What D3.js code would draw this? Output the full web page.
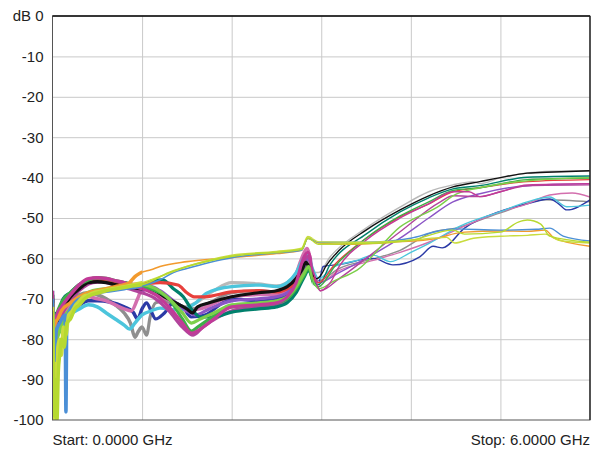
<!DOCTYPE html>
<html>
<head>
<meta charset="utf-8">
<script src="https://cdn.jsdelivr.net/npm/d3@7"></script>
<style>
body { margin: 0; background: #fff; }
text { font-family: "Liberation Sans", Arial, sans-serif; }
</style>
</head>
<body>
<svg id="chart"></svg>
<script>
// axis values
let yTicks = [0, -10, -20, -30, -40, -50, -60, -70, -80, -90, -100]
let xGrid = [1, 2, 3, 4, 5]
let startLabel = 'Start: 0.0000 GHz'
let stopLabel = 'Stop: 6.0000 GHz'

// traces, [GHz, dB]
let black = [[0,-70],[0.015,-90],[0.03,-78],[0.06,-75],[0.1,-72],[0.15,-71],[0.2,-69.5],[0.3,-67.5],[0.4,-66],[0.5,-65.8],[0.6,-66],[0.7,-66.5],[0.8,-67],[0.9,-67.2],[1.0,-67.5],[1.12,-67.8],[1.25,-69.5],[1.42,-71.5],[1.5,-72.5],[1.56,-73.5],[1.62,-72],[1.75,-71],[2.0,-69.5],[2.3,-68.5],[2.5,-68],[2.62,-67],[2.72,-65],[2.78,-63],[2.83,-61],[2.88,-63],[2.95,-65],[3.0,-64],[3.05,-62],[3.2,-58],[3.5,-53],[3.88,-48],[4.2,-44.5],[4.47,-42.3],[4.77,-41],[5.0,-40],[5.3,-38.9],[5.6,-38.6],[6.0,-38.3]]
let lightGray = [[0,-71],[0.02,-84],[0.04,-76],[0.08,-74],[0.12,-71],[0.2,-69],[0.3,-67],[0.4,-65.8],[0.5,-65.5],[0.6,-65.8],[0.7,-66.3],[0.8,-67],[0.9,-67],[1.0,-67.3],[1.15,-68.5],[1.3,-70.5],[1.45,-72],[1.6,-71],[1.8,-68],[2.0,-66],[2.3,-66.3],[2.5,-66.8],[2.62,-66],[2.72,-64],[2.8,-62],[2.86,-61],[2.92,-63.5],[2.97,-63.5],[3.1,-59.6],[3.5,-52.5],[3.88,-47.3],[4.2,-43.5],[4.47,-41.8],[4.7,-41],[4.77,-41.5],[5.0,-40],[5.5,-38.5],[6.0,-38.3]]
let teal = [[0,-69],[0.015,-80],[0.03,-74],[0.07,-73],[0.12,-70],[0.2,-68.5],[0.3,-66.5],[0.4,-65.5],[0.5,-65],[0.6,-65.3],[0.7,-65.8],[0.8,-66],[0.9,-66.5],[1.0,-66.5],[1.12,-65.5],[1.23,-65.3],[1.35,-67.5],[1.46,-69.5],[1.55,-72.5],[1.65,-74.5],[1.8,-74.5],[2.0,-73.3],[2.3,-72.5],[2.5,-72],[2.62,-71],[2.72,-68.5],[2.8,-65],[2.86,-63],[2.92,-66],[2.97,-66.5],[3.1,-61.5],[3.5,-54],[3.88,-48.5],[4.2,-45],[4.47,-42.8],[4.77,-42],[5.3,-39.9],[6.0,-39.6]]
let red = [[0,-70],[0.02,-83],[0.04,-75],[0.08,-73.5],[0.15,-71],[0.25,-68],[0.35,-66.3],[0.45,-65.5],[0.55,-65.3],[0.65,-65.8],[0.75,-66],[0.85,-66.5],[1.0,-66.3],[1.2,-66],[1.4,-66.6],[1.5,-68.5],[1.58,-69.5],[1.7,-69.5],[2.0,-68.3],[2.3,-68],[2.5,-68.3],[2.62,-67.5],[2.72,-66],[2.8,-64],[2.86,-62],[2.92,-65],[2.97,-66],[3.15,-61.5],[3.5,-55],[3.88,-49.7],[4.2,-46.5],[4.47,-43.5],[4.77,-42.5],[5.3,-41],[6.0,-40.5]]
let green = [[0,-69],[0.01,-92],[0.025,-80],[0.05,-74],[0.1,-71],[0.2,-68.5],[0.3,-66.5],[0.4,-65.3],[0.5,-64.8],[0.6,-65],[0.7,-65.5],[0.8,-66],[0.9,-66.5],[1.0,-67],[1.15,-68],[1.3,-70],[1.45,-75],[1.55,-78],[1.62,-77],[1.75,-75],[2.0,-72],[2.3,-71.5],[2.5,-71],[2.62,-70],[2.72,-67.5],[2.8,-64.5],[2.86,-62.5],[2.92,-66.5],[2.97,-67],[3.15,-62],[3.5,-55],[3.88,-49.5],[4.2,-46],[4.47,-43.2],[4.77,-42.5],[5.3,-40.5],[6.0,-40.1]]
let magenta = [[0,-68],[0.01,-95],[0.02,-100],[0.03,-82],[0.05,-74],[0.1,-72],[0.2,-69],[0.3,-66.5],[0.4,-65],[0.5,-64.8],[0.6,-65],[0.7,-65.5],[0.8,-66],[0.9,-66.8],[1.0,-67.5],[1.15,-69],[1.3,-72],[1.45,-76],[1.55,-78.5],[1.65,-77.5],[1.8,-75],[2.0,-72],[2.3,-71.5],[2.5,-71],[2.62,-69.5],[2.72,-66],[2.8,-60],[2.85,-58.5],[2.92,-64],[2.99,-68],[3.1,-66],[3.2,-62],[3.5,-55.5],[3.88,-50],[4.2,-46.5],[4.47,-43.5],[4.65,-43.5],[4.77,-44.7],[5.0,-43.5],[5.3,-41.8],[6.0,-41.5]]
let magenta2 = [[0,-70],[0.02,-86],[0.04,-77],[0.08,-75],[0.15,-72],[0.25,-69],[0.35,-67],[0.45,-66],[0.55,-65.8],[0.65,-66.2],[0.75,-66.8],[0.85,-67.5],[1.0,-68.5],[1.15,-70],[1.3,-73],[1.45,-77],[1.57,-79],[1.68,-77],[1.85,-74.5],[2.0,-73],[2.3,-72],[2.5,-71.5],[2.62,-70.5],[2.72,-67],[2.8,-61],[2.85,-59.5],[2.92,-65],[2.99,-68],[3.2,-65],[3.5,-60],[3.88,-53.4],[4.33,-46],[4.47,-44.5],[4.77,-44.7],[5.0,-43.5],[5.3,-42],[6.0,-41.8]]
let lightGreen = [[0,-71],[0.015,-88],[0.03,-96],[0.05,-80],[0.08,-78],[0.12,-75],[0.18,-73],[0.25,-71],[0.35,-69],[0.45,-68],[0.6,-67.5],[0.75,-67],[0.9,-66.5],[1.0,-66.5],[1.15,-67.5],[1.3,-70],[1.45,-73.5],[1.55,-76],[1.65,-75],[1.8,-73.5],[2.0,-71.5],[2.3,-71],[2.5,-70.5],[2.62,-69.5],[2.72,-67],[2.8,-64],[2.86,-62],[2.92,-66],[2.97,-67.5],[3.15,-65.5],[3.4,-62.9],[3.88,-52.2],[4.33,-46.8],[4.47,-44.5],[4.77,-42.5],[5.3,-40.8],[6.0,-40]]
let purple = [[0,-70],[0.02,-82],[0.05,-75],[0.1,-72.5],[0.2,-69.5],[0.3,-67],[0.4,-66],[0.5,-65.5],[0.6,-65.5],[0.7,-66],[0.8,-66.5],[0.9,-67.5],[1.0,-68],[1.1,-67],[1.2,-68],[1.35,-70.5],[1.5,-73],[1.6,-74],[1.75,-72.5],[2.0,-70.5],[2.3,-70],[2.5,-69.5],[2.62,-68.5],[2.72,-66],[2.8,-62],[2.86,-60],[2.92,-64],[2.97,-66],[3.2,-63.5],[3.58,-59],[3.88,-55],[4.2,-50],[4.47,-46],[4.77,-44],[5.3,-42],[6.0,-41.5]]
let cyan = [[0,-68],[0.01,-96],[0.02,-88],[0.035,-82],[0.06,-79],[0.1,-76],[0.15,-76.5],[0.2,-74],[0.3,-72.5],[0.4,-71.5],[0.5,-72],[0.6,-73.5],[0.7,-75],[0.8,-76.5],[0.86,-77.5],[0.92,-76],[1.0,-74],[1.1,-73],[1.2,-72.3],[1.42,-72.8],[1.6,-71],[1.72,-68.6],[2.0,-67],[2.32,-66.6],[2.5,-67],[2.62,-66],[2.72,-63.5],[2.8,-60],[2.85,-59],[2.92,-63],[2.97,-65],[3.15,-62],[3.4,-60.5],[3.58,-59.2],[3.77,-60.8],[4.0,-58.5],[4.21,-56.2],[4.55,-52],[4.99,-48.5],[5.3,-46],[5.55,-44.8],[5.74,-47.2],[6.0,-46.8]]
let darkBlue = [[0,-71],[0.015,-86],[0.03,-78],[0.06,-77],[0.1,-75],[0.2,-73],[0.3,-71.5],[0.4,-70.5],[0.5,-70.5],[0.64,-70.8],[0.8,-72],[0.9,-73.3],[0.95,-75],[1.0,-72.5],[1.05,-71],[1.1,-73],[1.15,-75],[1.25,-73.5],[1.35,-71],[1.45,-72],[1.55,-74.5],[1.7,-74],[2.0,-70],[2.3,-70.5],[2.5,-70],[2.62,-69],[2.72,-66.5],[2.8,-63],[2.86,-62],[2.92,-65.5],[2.97,-66],[3.02,-62],[3.2,-61.5],[3.58,-60],[3.8,-61.6],[4.1,-59.6],[4.25,-57],[4.35,-57.4],[4.6,-52.5],[4.99,-48.4],[5.3,-46.5],[5.55,-45.3],[5.65,-46.5],[5.74,-48],[6.0,-45.5]]
let pink = [[0,-70],[0.02,-80],[0.05,-76],[0.1,-74],[0.2,-71.5],[0.3,-70],[0.4,-69.5],[0.5,-70],[0.6,-70.5],[0.7,-71.5],[0.8,-72.5],[0.88,-73],[0.95,-70],[1.02,-66.5],[1.1,-67],[1.2,-69],[1.35,-71],[1.5,-73],[1.65,-72.5],[2.0,-69.5],[2.3,-69],[2.5,-69],[2.62,-68],[2.7,-65],[2.78,-60],[2.84,-57.5],[2.9,-62],[2.97,-66],[3.2,-63],[3.58,-60.5],[3.88,-58.5],[4.2,-56],[4.6,-52],[5.0,-48.5],[5.3,-46.5],[5.55,-44.3],[5.8,-43.8],[6.0,-44.8]]
let midGray = [[0,-69],[0.015,-84],[0.03,-77],[0.06,-75.5],[0.1,-73.5],[0.2,-71],[0.3,-69],[0.4,-68.5],[0.5,-69],[0.6,-70],[0.7,-71.5],[0.8,-73.5],[0.87,-76],[0.92,-79.5],[0.96,-78],[1.0,-77],[1.05,-79],[1.09,-74.5],[1.15,-71],[1.25,-70.5],[1.4,-72],[1.55,-72.5],[1.7,-71.5],[2.0,-68.5],[2.3,-68],[2.5,-68.3],[2.62,-67.5],[2.72,-65],[2.8,-62],[2.86,-60],[2.92,-64],[2.97,-65.5],[3.2,-62.5],[3.6,-60],[3.88,-58],[4.23,-53.6],[4.5,-52.5],[4.99,-48.8],[5.5,-45.5],[6.0,-46]]
let orange = [[0,-71],[0.015,-84],[0.03,-76],[0.06,-75],[0.1,-73],[0.2,-71],[0.3,-69.5],[0.4,-68.5],[0.5,-68],[0.6,-67.5],[0.7,-67],[0.8,-66.5],[0.86,-66],[0.92,-64.5],[0.98,-63.6],[1.1,-62.8],[1.2,-62],[1.5,-60.8],[2.0,-59.8],[2.5,-58.8],[2.78,-58],[2.85,-55],[2.97,-56.2],[3.3,-56.5],[3.8,-56],[4.3,-55],[4.5,-53.8],[4.6,-53.5],[5.0,-53.2],[5.3,-53.3],[5.5,-53],[5.6,-55],[6.0,-57]]
let lightBlue = [[0,-70],[0.02,-86],[0.04,-78],[0.08,-76],[0.14,-74],[0.15,-98],[0.16,-75],[0.25,-71],[0.35,-69.5],[0.5,-68.5],[0.65,-68],[0.8,-67.5],[0.95,-67],[1.05,-66.5],[1.2,-65.3],[1.35,-63.5],[1.5,-62.5],[1.75,-61],[2.0,-59.8],[2.5,-58.6],[2.78,-58],[2.85,-55],[2.97,-56],[3.5,-56],[4.0,-55],[4.27,-53.4],[4.47,-52.7],[5.0,-53],[5.4,-52.8],[5.55,-52.5],[5.7,-54.5],[6.0,-55.7]]
let yellowGreen = [[0,-72],[0.01,-92],[0.02,-100],[0.03,-86],[0.045,-98],[0.06,-82],[0.08,-80],[0.1,-84],[0.12,-77],[0.15,-79],[0.18,-74],[0.22,-73],[0.26,-71.5],[0.3,-70.5],[0.34,-69.5],[0.4,-69],[0.48,-68.3],[0.56,-68],[0.64,-67.6],[0.72,-67.3],[0.8,-67],[0.9,-66.5],[1.0,-66],[1.2,-64.5],[1.5,-62],[2.0,-59.2],[2.5,-58.3],[2.78,-57.5],[2.85,-54.6],[2.97,-55.9],[3.5,-56],[4.0,-55.5],[4.4,-54.8],[4.49,-56.2],[4.7,-55],[5.0,-54.5],[5.3,-54.3],[5.5,-54],[5.65,-55.5],[6.0,-56.2]]
let lime = [[0,-73],[0.01,-86],[0.02,-99],[0.035,-90],[0.05,-100],[0.065,-88],[0.08,-84],[0.1,-80],[0.13,-82],[0.16,-76],[0.2,-75],[0.25,-72.5],[0.3,-71.5],[0.36,-70],[0.44,-69],[0.52,-68.5],[0.6,-68],[0.7,-67.6],[0.8,-67.2],[0.9,-66.8],[1.0,-66.5],[1.3,-63.5],[2.0,-59.5],[2.78,-57.8],[2.85,-55],[2.97,-56.5],[3.5,-56.3],[4.0,-55.5],[4.47,-53],[4.6,-54],[5.0,-53.5],[5.2,-51],[5.3,-50.5],[5.45,-51.5],[5.55,-54.5],[6.0,-56]]

let traces = [
    { pts: lightGray, color: '#b9b9b9', group: 'A' },
    { pts: midGray, color: '#8f8f8f', group: 'B' },
    { pts: darkBlue, color: '#2b3aa6', group: 'B' },
    { pts: pink, color: '#d36fae', group: 'B' },
    { pts: cyan, color: '#4cc5dc', group: 'B' },
    { pts: purple, color: '#8b55c6', group: 'A' },
    { pts: magenta2, color: '#b2449c', group: 'A' },
    { pts: teal, color: '#00806c', group: 'A' },
    { pts: red, color: '#e8403c', group: 'A' },
    { pts: black, color: '#111111', group: 'A' },
    { pts: green, color: '#3daf48', group: 'A' },
    { pts: lightGreen, color: '#7ccf4a', group: 'A' },
    { pts: magenta, color: '#c23a97', group: 'A' },
    { pts: orange, color: '#f29a2e', group: 'C' },
    { pts: lightBlue, color: '#4b8fd6', group: 'C' },
    { pts: yellowGreen, color: '#c9dc3e', group: 'C' },
    { pts: lime, color: '#b6d930', group: 'C' }
]

let width = 596
let height = 450
let padLeft = 52.5
let padRight = 590
let padTop = 16
let padBottom = 420

let svg = d3.select('#chart')
svg.attr('width', width)
svg.attr('height', height)

let xScale = d3.scaleLinear().domain([0, 6]).range([padLeft, padRight])
let yScale = d3.scaleLinear().domain([-100, 0]).range([padBottom, padTop])

// grid
svg.append('g')
    .attr('transform', 'translate(0,' + padBottom + ')')
    .call(d3.axisBottom(xScale).tickValues(xGrid).tickSize(-(padBottom - padTop)).tickFormat(''))
    .call(g => g.select('.domain').remove())
    .selectAll('line').attr('stroke', '#c9c9c9')

svg.append('g')
    .attr('transform', 'translate(' + padLeft + ',0)')
    .call(d3.axisLeft(yScale).tickValues(yTicks.slice(1, -1)).tickSize(-(padRight - padLeft)).tickFormat(''))
    .call(g => g.select('.domain').remove())
    .selectAll('line').attr('stroke', '#c9c9c9')

// noisy low band drawn thicker
let zones = [
    { id: 'z1', from: 0, to: 1.0 },
    { id: 'z2', from: 1.0, to: 2.9 },
    { id: 'z3', from: 2.9, to: 6 }
]
let defs = svg.append('defs')
zones.forEach(z => {
    defs.append('clipPath').attr('id', z.id)
        .append('rect')
        .attr('x', xScale(z.from))
        .attr('y', padTop)
        .attr('width', xScale(z.to) - xScale(z.from))
        .attr('height', padBottom - padTop)
})

let strokeFor = (t, z) => {
    if (z.id == 'z1') return 3.5
    if (z.id == 'z2') return t.group == 'C' ? 1.6 : 3.2
    return 1.4
}

let line = d3.line()
    .curve(d3.curveMonotoneX)
    .x(d => xScale(d[0]))
    .y(d => yScale(d[1]))

let plot = svg.append('g')
traces.forEach(t => {
    zones.forEach(z => {
        plot.append('path')
            .attr('d', line(t.pts))
            .attr('clip-path', 'url(#' + z.id + ')')
            .attr('fill', 'none')
            .attr('stroke', t.color)
            .attr('stroke-width', strokeFor(t, z))
            .attr('stroke-linejoin', 'round')
    })
})

// frame
svg.append('rect')
    .attr('x', padLeft).attr('y', padTop)
    .attr('width', padRight - padLeft).attr('height', padBottom - padTop)
    .attr('fill', 'none').attr('stroke', '#555').attr('stroke-width', 1)
svg.append('line')
    .attr('x1', padLeft).attr('x2', padRight).attr('y1', padTop).attr('y2', padTop)
    .attr('stroke', '#111').attr('stroke-width', 1.6)
svg.append('line')
    .attr('x1', padRight).attr('x2', padRight).attr('y1', padTop).attr('y2', padBottom)
    .attr('stroke', '#222').attr('stroke-width', 1.3)

// y labels
let yAxis = d3.axisLeft(yScale)
    .tickValues(yTicks)
    .tickSize(0)
    .tickPadding(9)
    .tickFormat(d => d == 0 ? 'dB 0' : d)

svg.append('g')
    .attr('transform', 'translate(' + padLeft + ',0)')
    .call(yAxis)
    .call(g => g.select('.domain').remove())
    .selectAll('text')
    .attr('fill', '#222')
    .style('font-size', '15px')
    .style('font-family', '"Liberation Sans", Arial, sans-serif')

svg.append('text')
    .attr('x', padLeft).attr('y', 445)
    .attr('fill', '#222').style('font-size', '15px')
    .text(startLabel)

svg.append('text')
    .attr('x', padRight).attr('y', 445)
    .attr('text-anchor', 'end')
    .attr('fill', '#222').style('font-size', '15px')
    .text(stopLabel)
</script>
</body>
</html>
